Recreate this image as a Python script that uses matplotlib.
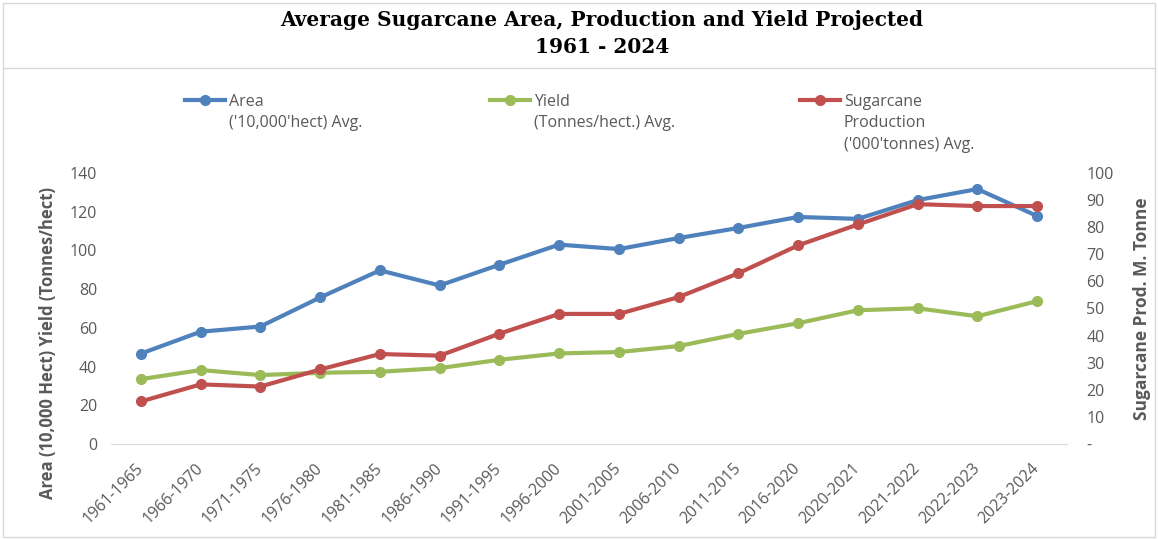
import matplotlib
matplotlib.use("Agg")
import matplotlib.pyplot as plt
from matplotlib.lines import Line2D
from matplotlib.patches import Rectangle
from matplotlib.ticker import FuncFormatter

# data
periods = ["1961-1965", "1966-1970", "1971-1975", "1976-1980", "1981-1985",
           "1986-1990", "1991-1995", "1996-2000", "2001-2005", "2006-2010",
           "2011-2015", "2016-2020", "2020-2021", "2021-2022", "2022-2023",
           "2023-2024"]
area = [46.7, 58.0, 60.7, 75.7, 89.7, 81.9, 92.6, 103.0, 100.7, 106.4,
        111.6, 117.3, 116.3, 126.0, 131.7, 117.8]
yield_avg = [33.5, 38.2, 35.6, 36.8, 37.3, 39.2, 43.5, 46.8, 47.5, 50.6,
             56.9, 62.4, 69.1, 70.1, 66.0, 73.8]
production = [15.7, 22.0, 21.2, 27.5, 33.2, 32.6, 40.7, 48.0, 48.0, 54.2,
              63.0, 73.3, 81.0, 88.5, 87.8, 87.8]

left_ticks = [0, 20, 40, 60, 80, 100, 120, 140]
right_ticks = [0, 10, 20, 30, 40, 50, 60, 70, 80, 90, 100]

legend_labels = ["Area\n('10,000'hect) Avg.",
                 "Yield\n(Tonnes/hect.) Avg.",
                 "Sugarcane\nProduction\n('000'tonnes) Avg."]

BLUE = "#4F81BD"
GREEN = "#9BBB59"
RED = "#C0504D"
GREY = "#595959"

plt.rcParams["font.family"] = ["Open Sans", "DejaVu Sans"]

W, H = 1158, 539
fig = plt.figure(figsize=(W / 100, H / 100), dpi=100)


def fx(px):
    return px / W


def fy(py):
    return 1 - py / H


# outer frame and header divider
fig.patches.append(Rectangle((fx(3), fy(537)), fx(1152), (534) / H,
                             transform=fig.transFigure, fill=False,
                             edgecolor="#D9D9D9", linewidth=1))
fig.lines.append(Line2D([fx(3), fx(1155)], [fy(68), fy(68)],
                        transform=fig.transFigure, color="#D9D9D9",
                        linewidth=1))

title_font = dict(ha="center", va="center", fontsize=14.5, fontweight="bold",
                  family="DejaVu Serif", color="black")
fig.text(0.52, fy(20), "Average Sugarcane Area, Production and Yield Projected",
         **title_font)
fig.text(0.52, fy(47), "1961 - 2024", **title_font)

ax = fig.add_axes([fx(111), fy(444), fx(1067 - 111), (444 - 173) / H])
ax2 = ax.twinx()

x = list(range(len(periods)))
style = dict(linewidth=3, marker="o", markersize=7)
l_area, = ax.plot(x, area, color=BLUE, **style)
l_yield, = ax.plot(x, yield_avg, color=GREEN, **style)
l_prod, = ax2.plot(x, production, color=RED, **style)

ax.set_xlim(-0.5, len(periods) - 0.5)
ax.set_ylim(0, 140)
ax.set_yticks(left_ticks)
ax2.set_ylim(0, 100)
ax2.set_yticks(right_ticks)
ax2.yaxis.set_major_formatter(
    FuncFormatter(lambda v, p: "-" if v == 0 else f"{v:.0f}"))

ax.set_xticks(x)
ax.set_xticklabels(periods, rotation=45, ha="right", va="center",
                   rotation_mode="anchor")

for a in (ax, ax2):
    for s in a.spines.values():
        s.set_visible(False)
    a.tick_params(length=0, labelsize=11.5, labelcolor=GREY)
ax.spines["bottom"].set_visible(True)
ax.spines["bottom"].set_color("#D9D9D9")
ax.tick_params(axis="x", pad=16)
ax.tick_params(axis="y", pad=10)
ax2.tick_params(axis="y", pad=14)

ax.set_ylabel("Area (10,000 Hect) Yield (Tonnes/hect)", fontsize=12,
              fontweight="bold", color=GREY)
ax.yaxis.set_label_coords(-0.057, 0.373)
ax2.set_ylabel("Sugarcane Prod. M. Tonne", fontsize=12.5, fontweight="bold",
               color=GREY, rotation=90)
ax2.yaxis.set_label_coords(1.069, 0.5)

# one legend per series, placed like the reference
for line, label, xpos in zip([l_area, l_yield, l_prod], legend_labels,
                             [185, 490, 800]):
    lg = fig.legend([line], [label], loc="upper left",
                    bbox_to_anchor=(fx(xpos), fy(94)), frameon=False,
                    fontsize=11.5, handlelength=2.5, handletextpad=0.25,
                    borderpad=0, borderaxespad=0, labelcolor=GREY)
    for t in lg.get_texts():
        t.set_linespacing(1.45)
    # keep the marker level with the first text line
    for col in lg._legend_handle_box.get_children():
        for item in col.get_children():
            item.align = "top"

fig.savefig("out.png", dpi=100)
